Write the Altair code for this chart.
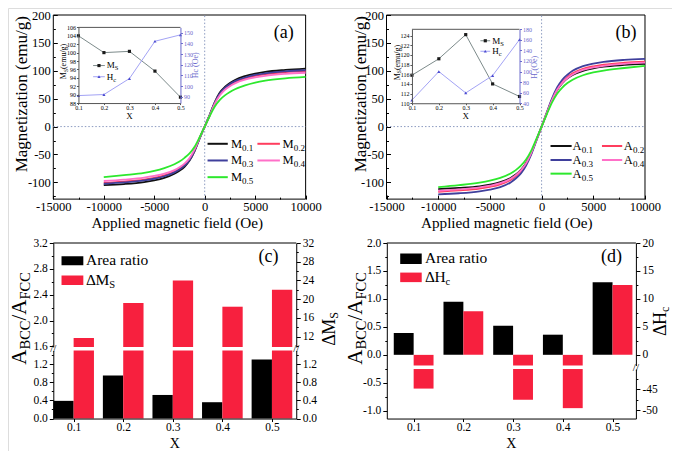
import altair as alt
import pandas as pd

FONT = "Liberation Serif"
W, HT = 664, 443
KX, KY = 0.978, 0.954


def X(p):
    return round(1 + (p - 3) * KX, 2)


def Y(p):
    return round(7 + (p - 7) * KY, 2)


# ------------------------------------------------------------------ data
H_FIELD = [-10000, -8000, -6000, -5000, -4000, -3000, -2500, -2000, -1500, -1000, -500, 0,
           500, 1000, 1500, 2000, 2500, 3000, 4000, 5000, 6000, 8000, 10000]

M01 = [-105.0, -103.0, -99.5, -96.5, -92.0, -84.5, -79.0, -72.0, -61.0, -44.0, -21.0, 0.0,
       21.0, 44.0, 61.0, 71.0, 78.0, 83.5, 90.5, 95.0, 98.0, 101.5, 104.0]
M02 = [-101.0, -98.5, -95.0, -92.0, -87.5, -80.5, -75.5, -68.5, -58.5, -42.0, -20.0, 0.0,
       20.0, 42.0, 58.0, 68.0, 75.0, 80.0, 86.5, 91.0, 94.0, 97.5, 99.5]
M03 = [-102.5, -100.0, -96.5, -93.5, -89.0, -82.0, -77.0, -70.0, -60.0, -43.0, -21.0, 0.0,
       21.0, 43.0, 59.5, 69.5, 76.5, 81.5, 88.0, 92.5, 95.5, 99.0, 101.0]
M04 = [-97.5, -95.0, -91.5, -88.5, -84.5, -78.0, -73.0, -66.5, -56.5, -41.0, -20.0, 0.0,
       20.0, 41.0, 56.0, 66.0, 72.5, 77.5, 84.0, 88.0, 91.0, 94.5, 96.5]
M05 = [-90.5, -87.0, -83.0, -79.5, -74.5, -67.5, -62.5, -56.0, -48.0, -36.0, -19.0, 0.0,
       19.0, 36.0, 48.0, 56.0, 62.0, 67.0, 74.0, 79.0, 82.5, 86.5, 89.0]

A01 = [-112.0, -110.0, -107.0, -104.0, -99.5, -92.0, -86.0, -77.5, -65.0, -47.0, -24.0, 0.0,
       24.0, 47.0, 65.5, 78.0, 86.5, 92.5, 100.0, 104.5, 107.5, 110.5, 112.5]
A02 = [-117.0, -114.5, -111.0, -108.0, -103.5, -95.5, -89.0, -80.0, -67.0, -48.0, -24.0, 0.0,
       24.0, 48.0, 67.0, 80.0, 89.0, 95.5, 103.5, 108.0, 111.0, 114.5, 116.5]
A03 = [-121.5, -119.5, -116.0, -113.0, -108.5, -100.0, -93.0, -84.0, -70.0, -50.0, -25.0, 0.0,
       25.0, 50.0, 70.0, 84.0, 93.0, 100.0, 108.5, 113.0, 116.0, 119.5, 121.5]
A04 = [-115.0, -112.5, -109.0, -106.0, -101.5, -93.5, -87.0, -78.5, -66.0, -47.0, -24.0, 0.0,
       24.0, 47.0, 66.0, 78.5, 87.0, 93.5, 101.5, 106.0, 109.0, 112.5, 114.5]
A05 = [-108.5, -105.0, -100.5, -97.0, -92.0, -84.0, -78.0, -70.0, -59.0, -43.0, -22.0, 0.0,
       22.0, 43.0, 59.0, 70.0, 78.0, 84.0, 92.0, 97.0, 100.5, 105.0, 109.0]

NAMES_M = ["M0.1", "M0.2", "M0.3", "M0.4", "M0.5"]
NAMES_A = ["A0.1", "A0.2", "A0.3", "A0.4", "A0.5"]
SUBS = ["0.1", "0.2", "0.3", "0.4", "0.5"]

X_RATIO = [0.1, 0.2, 0.3, 0.4, 0.5]
MS_M = [104.0, 100.0, 100.3, 95.6, 89.4]
HC_M = [91.0, 92.0, 107.0, 142.0, 148.0]
MS_A = [115.8, 119.2, 124.2, 114.0, 111.4]
HC_A = [46.0, 100.0, 59.5, 92.5, 160.5]
AREA = [0.39, 0.95, 0.52, 0.36, 1.30]
D_MS = [11.7, 19.2, 24.0, 18.4, 22.0]
D_HC = [-44.8, 7.8, -47.5, -49.5, 12.5]

CURVE_COLORS = ["#111111", "#ff3d5e", "#3f3f9c", "#ff70c8", "#2de82d"]
BAR_RED = "#f7203e"
DOT = "#8c9bc0"
INS_GRAY = "#7d8b8b"
INS_BLUE_LINE = "#a3a3f5"
INS_BLUE = "#4b4bd0"
INS_AXIS_BLUE = "#6a6acc"

ONE = pd.DataFrame({"k": [0]})

EM = {"A": .722, "B": .667, "C": .667, "F": .556, "M": .889, "H": .722, "S": .556, "X": .722,
      "c": .444, "\u0394": .612, " ": .25, "(": .333, ")": .333, "/": .278, ".": .25,
      "e": .444, "m": .778, "u": .5, "g": .5, "O": .722, "a": .444, "r": .333, "t": .278,
      "i": .278, "o": .5, "n": .5, "l": .278, "p": .5, "d": .5, "f": .333, "z": .444}


def tw(s, size):
    return sum(EM.get(c, 0.5) for c in s) * size


def lin(domain, r0, r1, clamp=False):
    kw = dict(domain=domain, range=[r0, r1], nice=False, zero=False)
    if clamp:
        kw["clamp"] = True
    return alt.Scale(**kw)


AX = dict(grid=False, labelFont=FONT, labelColor="black", domainColor="black",
          tickColor="black", title=None, labelFlush=False, labelOverlap=False, zindex=2)

NEG_D = "datum.value < 0 ? '-' + format(-datum.value, 'd') : format(datum.value, 'd')"
NEG_1F = "(datum.value < 0 ? '-' : '') + format(abs(datum.value), '.1f')"


def merged(kw):
    d = dict(AX)
    d.update(kw)
    return d


def ax_left(px, **kw):
    return alt.Axis(orient="left", offset=-px, **merged(kw))


def ax_right(px, **kw):
    return alt.Axis(orient="right", offset=px - W, **merged(kw))


def ax_bottom(py, **kw):
    return alt.Axis(orient="bottom", offset=py - HT, **merged(kw))


def txt(s, x, y, size, angle=0, align="center", baseline="alphabetic", color="black"):
    return alt.Chart(pd.DataFrame({"t": [s]})).mark_text(
        font=FONT, fontSize=size, angle=angle, align=align, baseline=baseline, color=color
    ).encode(x=alt.value(x), y=alt.value(y), text="t:N")


def rich(pieces, x, y, angle=0, anchor="left", color="black"):
    total = sum(tw(t, s) for t, s, _ in pieces)
    adv = -total / 2 if anchor == "center" else 0.0
    out = []
    for t, s, sh in pieces:
        out.append(alt.Chart(pd.DataFrame({"t": [t]})).mark_text(
            font=FONT, fontSize=s, align="left", baseline="alphabetic",
            angle=angle, dx=round(adv, 2), dy=sh, color=color
        ).encode(x=alt.value(x), y=alt.value(y), text="t:N"))
        adv += tw(t, s)
    return out


def inward(xs, ys, xv, yv, size, x_left_px, y_bot_px):
    tk = dict(labels=False, domain=False, grid=False, tickColor="black", tickSize=size,
              title=None, tickWidth=1)
    return alt.Chart(ONE).mark_point(opacity=0).encode(
        x=alt.XDatum(0, type="quantitative", scale=xs,
                     axis=alt.Axis(orient="top", offset=-y_bot_px, values=xv, **tk)),
        y=alt.YDatum(0, type="quantitative", scale=ys,
                     axis=alt.Axis(orient="right", offset=x_left_px - W, values=yv, **tk)),
    )


def minor_y(scale, vals, px, side):
    kw = dict(values=vals, labels=False, domain=False, tickSize=2)
    axis = ax_left(px, **kw) if side == "left" else ax_right(px, **kw)
    return alt.Chart(ONE).mark_point(opacity=0).encode(
        x=alt.value(0), y=alt.YDatum(vals[0], type="quantitative", scale=scale, axis=axis))


def long_df(names, series):
    rows = []
    for n, vals in zip(names, series):
        for h, m in zip(H_FIELD, vals):
            rows.append({"H": h, "M": m, "s": n})
    return pd.DataFrame(rows)


def mh_panel(df, names, letter, fx0, fx1, fy0, fy1, ins, ms_vals, hc_vals, ms_dom, hc_dom,
             ms_ticks, hc_ticks, ins_leg, leg, lab_xy, ytitle_x, xtitle_cx, hc_sub):
    L = []
    xs = lin([-15000, 10000], X(fx0), X(fx1))
    ys = lin([-130, 200], Y(fy1), Y(fy0))
    # frame
    L.append(alt.Chart(ONE).mark_rect(fillOpacity=0, stroke="black", strokeWidth=1).encode(
        x=alt.XDatum(-15000, type="quantitative", scale=xs, axis=None), x2=alt.X2Datum(10000),
        y=alt.YDatum(-130, type="quantitative", scale=ys, axis=None), y2=alt.Y2Datum(200)))
    # dotted zero lines
    L.append(alt.Chart(ONE).mark_rule(color=DOT, strokeDash=[1.5, 2], strokeWidth=1).encode(
        x=alt.XDatum(0, type="quantitative", scale=xs, axis=None),
        y=alt.YDatum(-130, type="quantitative", scale=ys, axis=None), y2=alt.Y2Datum(200)))
    L.append(alt.Chart(ONE).mark_rule(color=DOT, strokeDash=[1.5, 2], strokeWidth=1).encode(
        y=alt.YDatum(0, type="quantitative", scale=ys, axis=None),
        x=alt.XDatum(-15000, type="quantitative", scale=xs, axis=None), x2=alt.X2Datum(10000)))
    # inward ticks
    L.append(inward(xs, ys, [-15000, -10000, -5000, 0, 5000, 10000],
                    [-100, -50, 0, 50, 100, 150, 200], 4, X(fx0), Y(fy1)))
    L.append(inward(xs, ys, [-12500, -7500, -2500, 2500, 7500],
                    [-125, -75, -25, 25, 75, 125, 175], 2, X(fx0), Y(fy1)))
    # curves
    L.append(alt.Chart(df).mark_line(strokeWidth=1.8, interpolate="monotone").encode(
        x=alt.X("H:Q", scale=xs, axis=ax_bottom(
            Y(fy1), values=[-15000, -10000, -5000, 0, 5000, 10000], labelExpr=NEG_D,
            ticks=False, domain=False, labelFontSize=12.5, labelPadding=1)),
        y=alt.Y("M:Q", scale=ys, axis=ax_left(
            X(fx0), values=[-100, -50, 0, 50, 100, 150, 200], labelExpr=NEG_D,
            ticks=False, domain=False, labelFontSize=12.5, labelPadding=3)),
        color=alt.Color("s:N", scale=alt.Scale(domain=names[::-1], range=CURVE_COLORS[::-1]),
                        legend=None),
        order=alt.Order("H:Q"),
    ))
    # axis titles
    L += rich([("Magnetization (emu/g)", 17, 0)], X(ytitle_x), Y(90), angle=270, anchor="center")
    L.append(txt("Applied magnetic field (Oe)", X(xtitle_cx), Y(230.5), 15.2))
    # ---------------- inset
    ix0, ix1, iy0, iy1 = ins
    ixs = lin([0.1, 0.5], X(ix0), X(ix1))
    ims = lin(ms_dom, Y(iy1), Y(iy0))
    ihc = lin(hc_dom, Y(iy1), Y(iy0))
    idf = pd.DataFrame({"X": X_RATIO, "Ms": ms_vals, "Hc": hc_vals})
    L.append(alt.Chart(ONE).mark_rule(color="#555555", strokeWidth=1).encode(
        x=alt.XDatum(0.1, type="quantitative", scale=ixs, axis=None), x2=alt.X2Datum(0.5),
        y=alt.YDatum(ms_dom[1], type="quantitative", scale=ims, axis=None)))
    L.append(alt.Chart(idf).mark_line(color=INS_GRAY, strokeWidth=1).encode(
        x=alt.X("X:Q", scale=ixs, axis=ax_bottom(
            Y(iy1), values=X_RATIO, format=".1f", labelFontSize=6, tickSize=1.5,
            labelPadding=0, domainColor="#555555", tickColor="#555555")),
        y=alt.Y("Ms:Q", scale=ims, axis=ax_left(
            X(ix0), values=ms_ticks, format="d", labelFontSize=6, tickSize=2,
            labelPadding=1, domainColor="#555555", tickColor="#555555"))))
    L.append(alt.Chart(idf).mark_point(shape="square", filled=True, size=10, color="#1a1a1a",
                                       opacity=1).encode(
        x=alt.X("X:Q", scale=ixs, axis=None), y=alt.Y("Ms:Q", scale=ims, axis=None)))
    L.append(alt.Chart(idf).mark_line(color=INS_BLUE_LINE, strokeWidth=1).encode(
        x=alt.X("X:Q", scale=ixs, axis=None),
        y=alt.Y("Hc:Q", scale=ihc, axis=ax_right(
            X(ix1), values=hc_ticks, format="d", labelFontSize=6, tickSize=2,
            labelPadding=1, domainColor=INS_AXIS_BLUE, tickColor=INS_AXIS_BLUE,
            labelColor=INS_AXIS_BLUE))))
    L.append(alt.Chart(idf).mark_point(shape="triangle-up", filled=True, size=10,
                                       color=INS_BLUE, opacity=1).encode(
        x=alt.X("X:Q", scale=ixs, axis=None), y=alt.Y("Hc:Q", scale=ihc, axis=None)))
    # inset titles
    L.append(txt("X", X((ix0 + ix1) / 2), Y(iy1 + 17), 9))
    L += rich([("M", 8, 0), ("S", 5.5, 1.5), (" (emu/g)", 8, 0)], X(ix0 - 12.5),
              Y((iy0 + iy1) / 2 - 5), angle=270, anchor="center")
    if hc_sub:
        hp = [("H", 8, 0), ("c", 5.5, 1.5), (" (Oe)", 8, 0)]
    else:
        hp = [("Hc (Oe)", 8, 0)]
    L += rich(hp, X(ix1 + 18), Y((iy0 + iy1) / 2), angle=270, anchor="center",
              color=INS_AXIS_BLUE)
    # inset legend
    lx0, lx1, ly_ms, ly_hc = ins_leg
    for yy, col, pcol, shape, base, sub in [
        (ly_ms, INS_GRAY, "#1a1a1a", "square", "M", "S"),
        (ly_hc, INS_BLUE_LINE, INS_BLUE, "triangle-up", "H", "c"),
    ]:
        L.append(alt.Chart(ONE).mark_rule(color=col, strokeWidth=1).encode(
            x=alt.value(X(lx0)), x2=alt.value(X(lx1)), y=alt.value(Y(yy))))
        L.append(alt.Chart(ONE).mark_point(shape=shape, filled=True, size=10, color=pcol,
                                           opacity=1).encode(
            x=alt.value(X((lx0 + lx1) / 2)), y=alt.value(Y(yy))))
        L += rich([(base, 9, 0), (sub, 6.5, 2)], X(lx1 + 2), Y(yy + 3))
    # main legend
    c1s, c1e, c1t, c2s, c2e, c2t, rows = leg
    pos = [(0, 0), (1, 0), (0, 1), (1, 1), (0, 2)]
    for i, (cc, rr) in enumerate(pos):
        xs0, xs1, xt = (c1s, c1e, c1t) if cc == 0 else (c2s, c2e, c2t)
        yy = rows[rr]
        L.append(alt.Chart(ONE).mark_rule(color=CURVE_COLORS[i], strokeWidth=2).encode(
            x=alt.value(X(xs0)), x2=alt.value(X(xs1)), y=alt.value(Y(yy))))
        L += rich([(letter, 12.5, 0), (SUBS[i], 9, 3)], X(xt), Y(yy + 4.2))
    L.append(txt("(" + ("a" if letter == "M" else "b") + ")", X(lab_xy[0]), Y(lab_xy[1]), 18))
    return L


BW = 0.041
CB = 430  # bottom edge (reference coordinate) of the two bar panels

# ------------------------------------------------------------------ panel (a), (b)
layers = []
layers += mh_panel(long_df(NAMES_M, [M01, M02, M03, M04, M05]), NAMES_M, "M",
                   48.3, 306.3, 7, 200, (74, 178.3, 20, 99.3), MS_M, HC_M, [88, 106], [84, 155],
                   [88, 90, 92, 94, 96, 98, 100, 102, 104, 106], [90, 100, 110, 120, 130, 140, 150],
                   (89, 101, 60, 71.7),
                   (206, 226.7, 230, 257, 280, 282.7, [142, 159.5, 177]),
                   (284, 31), 21.6, 175, False)
layers += mh_panel(long_df(NAMES_A, [A01, A02, A03, A04, A05]), NAMES_A, "A",
                   389, 653.3, 7, 200, (415, 525, 22, 99.5), MS_A, HC_A, [110, 125.3], [40, 180],
                   [110, 112, 114, 116, 118, 120, 122, 124], [40, 60, 80, 100, 120, 140, 160, 180],
                   (485, 495, 34, 45),
                   (556.7, 578.3, 579.3, 609.3, 630, 631.7, [144.3, 159, 173.3]),
                   (634, 31), 368.3, 512, True)

# ------------------------------------------------------------------ panel (c)
dfc = pd.DataFrame({"X": X_RATIO, "area": AREA, "dMs": D_MS})
cxs = lin([0.059, 0.549], X(48.3), X(296.7))
c_lo = lin([0, 1.5], Y(CB), Y(358.7), clamp=True)
c_lhi = lin([1.59, 3.2], Y(355), Y(246))
c_rhi = lin([9.8, 32], Y(355), Y(246), clamp=True)
YAX = dict(labelFontSize=11.5, tickSize=4, labelPadding=2)
XAX = dict(labelFontSize=11.5, tickSize=3, labelPadding=0)

layers.append(alt.Chart(dfc).transform_calculate(x0=f"datum.X - {BW}").mark_bar(color="black").encode(
    x=alt.X("x0:Q", scale=cxs, axis=ax_bottom(Y(CB), values=X_RATIO, format=".1f", **XAX)),
    x2="X:Q",
    y=alt.Y("area:Q", scale=c_lo, axis=ax_left(X(48.3), values=[0, 0.4, 0.8, 1.2],
                                                format=".1f", **YAX)),
    y2=alt.Y2Datum(0)))
layers.append(alt.Chart(dfc).transform_calculate(x1=f"datum.X + {BW}").mark_bar(color=BAR_RED).encode(
    x=alt.X("X:Q", scale=cxs, axis=None), x2="x1:Q",
    y=alt.Y("dMs:Q", scale=c_lo, axis=ax_right(X(296.7), values=[0, 0.4, 0.8, 1.2],
                                               format=".1f", **YAX)),
    y2=alt.Y2Datum(0)))
layers.append(alt.Chart(dfc).transform_calculate(x1=f"datum.X + {BW}").mark_bar(color=BAR_RED).encode(
    x=alt.X("X:Q", scale=cxs, axis=None), x2="x1:Q",
    y=alt.Y("dMs:Q", scale=c_rhi, axis=ax_right(X(296.7), values=[12, 16, 20, 24, 28, 32],
                                                format="d", **YAX)),
    y2=alt.Y2Datum(0)))
layers.append(alt.Chart(ONE).mark_rule(color="black").encode(
    x=alt.XDatum(0.059, type="quantitative", scale=cxs, axis=None), x2=alt.X2Datum(0.549),
    y=alt.YDatum(3.2, type="quantitative", scale=c_lhi,
                 axis=ax_left(X(48.3), values=[1.6, 2.0, 2.4, 2.8, 3.2], format=".1f", **YAX))))
layers.append(minor_y(c_lo, [0.2, 0.6, 1.0, 1.4], X(48.3), "left"))
layers.append(minor_y(c_lhi, [1.8, 2.2, 2.6, 3.0], X(48.3), "left"))
layers.append(minor_y(c_lo, [0.2, 0.6, 1.0, 1.4], X(296.7), "right"))
layers.append(minor_y(c_rhi, [10, 14, 18, 22, 26, 30], X(296.7), "right"))
layers.append(txt("//", X(48.3), Y(360.5), 11))
layers.append(txt("//", X(296.7), Y(360.5), 11))
layers += rich([("A", 21, 0), ("BCC", 14.5, 4), ("/", 21, 0), ("A", 21, 0), ("FCC", 14.5, 4)],
               X(20.5), Y(325), angle=270, anchor="center")
layers += rich([("\u0394", 18, 0), ("M", 18, 0), ("S", 12, 3)], X(336), Y(336), angle=270,
               anchor="center")
layers.append(txt("X", X(172.5), 440, 14))
layers.append(txt("(c)", X(268.3), Y(265.5), 18))
layers.append(alt.Chart(ONE).mark_rect(color="black").encode(
    x=alt.value(X(56.7)), x2=alt.value(X(79)), y=alt.value(Y(260)), y2=alt.value(Y(269.3))))
layers.append(alt.Chart(ONE).mark_rect(color=BAR_RED).encode(
    x=alt.value(X(56.7)), x2=alt.value(X(79)), y=alt.value(Y(280)), y2=alt.value(Y(290))))
layers += rich([("Area ratio", 15.5, 0)], X(81.7), Y(269.5))
layers += rich([("\u0394", 15.5, 0), ("M", 15.5, 0), ("S", 10.5, 3.5)], X(81.7), Y(289.5))

# ------------------------------------------------------------------ panel (d)
dfd = pd.DataFrame({"X": X_RATIO, "area": AREA, "dHc": D_HC})
dxs = lin([0.046, 0.547], X(389.3), X(644))
d_l = lin([-1.14, 2.0], Y(CB), Y(246))
d_zero = 246 + (CB - 246) * 2.0 / 3.14  # reference y of the zero line
d_rhi = lin([-1.9, 20], Y(d_zero + 11.2), Y(246), clamp=True)
d_rlo = lin([-52, -40.1], Y(CB), Y(d_zero + 14.9), clamp=True)
BWD = 0.04

layers.append(alt.Chart(dfd).transform_calculate(x0=f"datum.X - {BWD}").mark_bar(color="black").encode(
    x=alt.X("x0:Q", scale=dxs, axis=ax_bottom(Y(CB), values=X_RATIO, format=".1f", **XAX)),
    x2="X:Q",
    y=alt.Y("area:Q", scale=d_l, axis=ax_left(X(389.3), values=[-1.0, -0.5, 0, 0.5, 1.0, 1.5, 2.0],
                                               labelExpr=NEG_1F, **YAX)),
    y2=alt.Y2Datum(0)))
layers.append(alt.Chart(dfd).transform_calculate(x1=f"datum.X + {BWD}").mark_bar(color=BAR_RED).encode(
    x=alt.X("X:Q", scale=dxs, axis=None), x2="x1:Q",
    y=alt.Y("dHc:Q", scale=d_rhi, axis=ax_right(X(644), values=[0, 5, 10, 15, 20],
                                                format="d", **YAX)),
    y2=alt.Y2Datum(0)))
layers.append(alt.Chart(dfd).transform_calculate(x1=f"datum.X + {BWD}").mark_bar(color=BAR_RED).encode(
    x=alt.X("X:Q", scale=dxs, axis=None), x2="x1:Q",
    y=alt.Y("dHc:Q", scale=d_rlo, axis=ax_right(X(644), values=[-50, -45],
                                                labelExpr=NEG_D, **YAX)),
    y2=alt.Y2Datum(0)))
layers.append(alt.Chart(ONE).mark_rule(color="black").encode(
    x=alt.XDatum(0.046, type="quantitative", scale=dxs, axis=None), x2=alt.X2Datum(0.547),
    y=alt.YDatum(2.0, type="quantitative", scale=d_l, axis=None)))
layers.append(minor_y(d_l, [-0.75, -0.25, 0.25, 0.75, 1.25, 1.75], X(389.3), "left"))
layers.append(minor_y(d_rhi, [2.5, 7.5, 12.5, 17.5], X(644), "right"))
layers.append(minor_y(d_rlo, [-47.5, -42.5], X(644), "right"))
layers.append(txt("//", X(644), Y(d_zero + 16.5), 11))
layers += rich([("A", 21, 0), ("BCC", 14.5, 4), ("/", 21, 0), ("A", 21, 0), ("FCC", 14.5, 4)],
               X(364), Y(325), angle=270, anchor="center")
layers += rich([("\u0394", 18, 0), ("H", 18, 0), ("c", 12, 3)], X(675), Y(328), angle=270,
               anchor="center")
layers.append(txt("X", X(516.5), 440, 14))
layers.append(txt("(d)", X(619), Y(265.5), 18))
layers.append(alt.Chart(ONE).mark_rect(color="black").encode(
    x=alt.value(X(403)), x2=alt.value(X(425)), y=alt.value(Y(257)), y2=alt.value(Y(268))))
layers.append(alt.Chart(ONE).mark_rect(color=BAR_RED).encode(
    x=alt.value(X(403)), x2=alt.value(X(425)), y=alt.value(Y(277)), y2=alt.value(Y(287))))
layers += rich([("Area ratio", 15.5, 0)], X(428.3), Y(266.7))
layers += rich([("\u0394", 15.5, 0), ("H", 15.5, 0), ("c", 10.5, 3.5)], X(428.3), Y(286.7))

chart = alt.layer(*layers).resolve_scale(
    x="independent", y="independent", color="independent"
).properties(
    width=W, height=HT, autosize=alt.AutoSizeParams(type="none"), padding=0
).configure_view(stroke=None).configure(background="white")

chart.save("out.html", embed_options={"renderer": "svg", "actions": False})
